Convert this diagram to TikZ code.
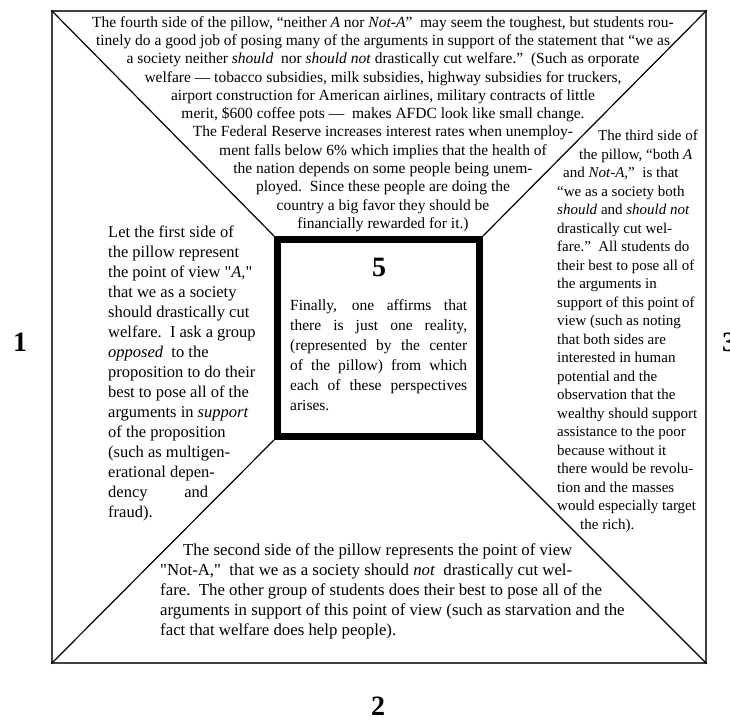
\documentclass[tikz,border=0pt]{standalone}
\usepackage{fontspec}
\setmainfont{Liberation Serif}[Ligatures=TeXOff]
\usetikzlibrary{positioning}

\newcommand{\fullline}[2]{\makebox[#1][s]{#2}}

\begin{document}
\begin{tikzpicture}[
    x=1pt, y=-1pt,
    frame/.style={draw=black!75, line width=1.4pt, inner sep=0pt},
    core/.style={draw, line width=7pt, inner sep=0pt},
    spoke/.style={line width=1.2pt},
    sidetext/.style={inner sep=0pt, align=left},
    bignum/.style={inner sep=0pt, font=\fontsize{28}{28}\selectfont\bfseries},
  ]
  \useasboundingbox (0,0) rectangle (730,722);

  % the pillow and its centre
  \node[frame, minimum width=654pt, minimum height=652pt] (pillow) at (379,337) {};
  \node[core, minimum width=202pt, minimum height=197pt] (core) at (378.5,338) {};

  \draw[spoke] (pillow.north west) -- (core.north west);
  \draw[spoke] (pillow.north east) -- (core.north east);
  \draw[spoke] (pillow.south west) -- (core.south west);
  \draw[spoke] (pillow.south east) -- (core.south east);

  % fourth side (top)
  \node[inner sep=0pt, align=center, anchor=north,
        font=\fontsize{15.5}{18.3}\selectfont] (fourth) at (383,16)
    {The fourth side of the pillow, “neither \textit{A} nor \textit{Not-A}”\ \ may seem the toughest, but students rou-\\
     tinely do a good job of posing many of the arguments in support of the statement that “we as\\
     a society neither \textit{should}\ \ nor \textit{should not} drastically cut welfare.”\ \ (Such as orporate\\
     welfare — tobacco subsidies, milk subsidies, highway subsidies for truckers,\\
     airport construction for American airlines, military contracts of little\\
     merit, \$600 coffee pots —\ \ makes AFDC look like small change.\\
     The Federal Reserve increases interest rates when unemploy-\\
     ment falls below 6\% which implies that the health of\\
     the nation depends on some people being unem-\\
     ployed.\ \ Since these people are doing the\\
     country a big favor they should be\\
     financially rewarded for it.)};

  % first side (left)
  \node[sidetext, anchor=north west, font=\fontsize{16.5}{20}\selectfont] (first) at (108,226)
    {Let the first side of\\
     the pillow represent\\
     the point of view "\textit{A,}"\\
     that we as a society\\
     should drastically cut\\
     welfare.\ \ I ask a group\\
     \textit{opposed}\ \ to the\\
     proposition to do their\\
     best to pose all of the\\
     arguments in \textit{support}\\
     of the proposition\\
     (such as multigen-\\
     erational depen-\\
     \fullline{100pt}{dency and}\\
     fraud).};

  % third side (right)
  \node[sidetext, anchor=north west, font=\fontsize{15}{18.5}\selectfont] (third) at (557,130)
    {\hspace*{41pt}The third side of\\
     \hspace*{22pt}the pillow, “both \textit{A}\\
     \hspace*{6pt}and \textit{Not-A,}”\ \ is that\\
     “we as a society both\\
     \textit{should} and \textit{should not}\\
     drastically cut wel-\\
     fare.”\ \ All students do\\
     their best to pose all of\\
     the arguments in\\
     support of this point of\\
     view (such as noting\\
     that both sides are\\
     interested in human\\
     potential and the\\
     observation that the\\
     wealthy should support\\
     assistance to the poor\\
     because without it\\
     there would be revolu-\\
     tion and the masses\\
     would especially target\\
     \hspace*{23pt}the rich).};

  % second side (bottom)
  \node[sidetext, anchor=north west, font=\fontsize{16.8}{20}\selectfont] (second) at (160,543)
    {\hspace*{23pt}The second side of the pillow represents the point of view\\
     "Not-A,"\ \ that we as a society should \textit{not}\ \ drastically cut wel-\\
     fare.\ \ The other group of students does their best to pose all of the\\
     arguments in support of this point of view (such as starvation and the\\
     fact that welfare does help people).};

  % centre
  \node[bignum] (five) at (379,267) {5};
  \node[sidetext, anchor=north west, font=\fontsize{15.5}{20}\selectfont] (finally) at (290,299)
    {\fullline{177pt}{Finally, one affirms that}\\
     \fullline{177pt}{there is just one reality,}\\
     \fullline{177pt}{(represented by the center}\\
     \fullline{177pt}{of the pillow) from which}\\
     \fullline{177pt}{each of these perspectives}\\
     arises.};

  % side numbers
  \node[bignum] (one) at (20,342) {1};
  \node[bignum] (two) at (378,706) {2};
  \node[bignum] (three) at (729,342) {3};
\end{tikzpicture}
\end{document}
